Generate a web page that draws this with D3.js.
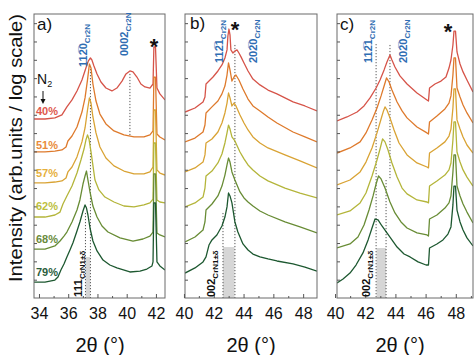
<!DOCTYPE html>
<html><head><meta charset="utf-8">
<script src="https://cdn.jsdelivr.net/npm/d3@7/dist/d3.min.js"></script>
<style>
body{margin:0;background:#fff}
svg{display:block}
text{font-family:"Liberation Sans",Arial,sans-serif}
</style>
</head><body>
<svg id="chart" width="474" height="355"></svg>
<script>
// ---------- DATA (x = 2θ in degrees, value = log10 of intensity, arb. units) ----------
const nitrogen = ["40%","51%","57%","62%","68%","79%"];
const ticksA = [34,36,38,40,42];
const ticksBC = [40,42,44,46,48];

// panel a) 34–42.6°
const a40 = [[33.66,9.77],[34.41,9.77],[35.09,9.83],[35.57,9.99],[35.91,10.43],[36.26,10.81],[36.60,11.30],[36.94,11.90],[37.21,12.55],[37.38,12.94],[37.52,13.10],[37.62,12.99],[37.76,12.66],[37.97,12.23],[38.24,11.79],[38.58,11.46],[38.99,11.30],[39.33,11.46],[39.68,11.84],[39.95,12.23],[40.22,12.39],[40.43,12.34],[40.70,12.06],[40.97,11.68],[41.25,11.52],[41.59,11.46],[41.80,11.68],[41.86,13.70],[41.97,13.70],[42.07,11.46],[42.27,11.14],[42.62,10.81]];
const a51 = [[33.66,7.97],[34.41,7.97],[35.09,8.02],[35.57,8.08],[35.85,8.24],[35.98,8.57],[36.26,8.84],[36.60,9.33],[36.94,10.15],[37.15,10.92],[37.32,11.90],[37.45,12.77],[37.56,12.55],[37.69,11.68],[37.90,10.75],[38.17,10.04],[38.58,9.50],[39.13,9.12],[39.81,8.90],[40.50,8.79],[41.18,8.79],[41.59,8.90],[41.80,9.12],[41.86,12.06],[41.97,12.06],[42.07,8.95],[42.27,8.79],[42.62,8.62]];
const a57 = [[33.66,6.28],[34.41,6.28],[35.09,6.33],[35.57,6.39],[35.85,6.55],[35.98,6.88],[36.26,7.15],[36.60,7.70],[36.94,8.52],[37.15,9.28],[37.32,10.26],[37.45,10.92],[37.56,10.64],[37.69,9.88],[37.90,9.01],[38.17,8.24],[38.58,7.64],[39.13,7.21],[39.81,6.93],[40.50,6.77],[41.18,6.77],[41.59,6.88],[41.80,7.15],[41.86,10.26],[41.97,10.26],[42.07,6.99],[42.27,6.82],[42.62,6.71]];
const a62 = [[33.66,4.42],[34.41,4.42],[35.09,4.53],[35.44,4.69],[35.64,5.13],[35.91,5.57],[36.26,6.11],[36.60,6.82],[36.87,7.53],[37.08,8.13],[37.21,8.62],[37.32,8.90],[37.42,8.68],[37.56,7.97],[37.83,6.44],[38.10,5.90],[38.51,5.51],[39.13,5.24],[39.81,5.02],[40.50,4.97],[41.18,5.08],[41.59,5.19],[41.80,5.40],[41.86,8.46],[41.97,8.46],[42.07,5.35],[42.27,5.24],[42.62,5.19]];
const a68 = [[33.66,2.67],[34.41,2.67],[35.09,2.84],[35.44,3.11],[35.71,3.38],[35.91,3.60],[36.26,4.15],[36.60,4.80],[36.80,5.35],[37.01,6.22],[37.15,6.66],[37.25,6.93],[37.35,6.44],[37.49,5.79],[37.69,5.02],[37.97,4.42],[38.31,3.93],[38.72,3.60],[39.54,3.28],[40.43,3.11],[41.11,3.22],[41.59,3.38],[41.80,3.60],[41.86,6.77],[41.97,6.77],[42.07,3.55],[42.27,3.44],[42.62,3.33]];
const a79 = [[33.66,0.87],[34.41,0.87],[35.09,0.98],[35.30,1.15],[35.50,1.53],[35.71,1.86],[35.91,2.24],[36.12,2.62],[36.32,3.00],[36.60,3.66],[36.80,4.15],[37.01,4.75],[37.15,5.08],[37.25,4.91],[37.35,4.53],[37.49,3.82],[37.69,3.11],[37.97,2.57],[38.38,2.07],[38.85,1.80],[39.33,1.64],[40.22,1.42],[40.91,1.47],[41.38,1.58],[41.73,1.75],[41.80,1.97],[41.86,5.19],[41.97,5.19],[42.07,1.97],[42.27,1.75],[42.62,1.53]];

// panel b) 40–49°
const b40 = [[40.07,10.15],[40.74,10.37],[41.28,10.70],[41.41,10.97],[41.48,11.68],[41.95,12.06],[42.28,12.39],[42.55,12.72],[42.75,13.10],[42.89,13.54],[42.95,14.30],[43.02,14.68],[43.09,14.36],[43.15,13.54],[43.29,13.37],[43.42,13.48],[43.56,13.54],[43.69,13.37],[43.83,13.16],[44.03,12.83],[44.30,12.39],[44.63,11.95],[45.10,11.63],[45.64,11.35],[46.24,11.14],[47.32,10.70],[48.12,10.48],[48.93,10.21]];
const b51 = [[40.07,8.52],[40.74,8.73],[41.28,9.06],[41.41,9.44],[41.48,10.10],[41.88,10.43],[42.28,10.75],[42.55,11.14],[42.75,11.57],[42.89,12.17],[42.99,12.83],[43.09,12.45],[43.22,11.84],[43.36,12.06],[43.49,12.17],[43.69,11.90],[43.96,11.41],[44.30,10.86],[44.63,10.48],[45.10,10.21],[45.64,9.88],[46.24,9.55],[47.32,9.06],[48.12,8.79],[48.93,8.52]];
const b57 = [[40.07,6.88],[40.74,7.10],[41.28,7.42],[41.41,7.81],[41.48,8.46],[41.88,8.68],[42.28,9.06],[42.55,9.55],[42.75,10.10],[42.89,10.64],[42.99,11.19],[43.09,10.92],[43.22,10.48],[43.36,10.64],[43.49,10.48],[43.76,9.99],[44.03,9.55],[44.30,9.17],[44.63,8.79],[45.10,8.46],[45.64,8.19],[46.78,7.81],[47.79,7.48],[48.93,7.10]];
const b62 = [[40.07,4.97],[40.74,5.19],[41.28,5.51],[41.41,6.00],[41.48,6.66],[41.88,6.93],[42.28,7.37],[42.55,7.86],[42.75,8.46],[42.89,9.01],[42.99,9.44],[43.09,9.22],[43.22,8.79],[43.42,8.57],[43.76,7.97],[44.03,7.59],[44.30,7.26],[44.63,6.99],[45.10,6.66],[45.64,6.39],[46.78,6.00],[47.79,5.73],[48.93,5.46]];
const b68 = [[40.07,3.06],[40.74,3.33],[41.28,3.71],[41.41,4.15],[41.48,4.80],[41.88,5.13],[42.28,5.57],[42.55,6.11],[42.75,6.71],[42.89,7.26],[42.99,7.64],[43.09,7.42],[43.22,6.88],[43.42,6.44],[43.76,5.79],[44.03,5.46],[44.30,5.24],[44.63,5.02],[45.10,4.75],[45.64,4.53],[46.78,4.15],[47.79,3.88],[48.93,3.55]];
const b79 = [[40.07,1.36],[40.74,1.64],[41.28,1.97],[41.48,2.24],[41.68,2.89],[41.88,3.17],[42.21,3.44],[42.55,3.93],[42.75,4.42],[42.89,4.97],[42.99,5.73],[43.09,5.57],[43.22,5.19],[43.42,4.15],[43.62,3.60],[43.96,2.95],[44.30,2.62],[44.63,2.40],[45.10,2.24],[45.64,2.13],[46.24,2.02],[47.32,1.86],[48.12,1.69],[48.93,1.47]];

// panel c) 40–49°
const c40 = [[40.13,9.66],[40.79,9.88],[41.46,10.15],[41.92,10.48],[42.32,10.92],[42.72,11.46],[42.98,11.90],[43.25,12.45],[43.44,12.88],[43.64,13.26],[43.77,12.99],[43.97,12.61],[44.30,12.12],[44.77,11.68],[45.43,11.19],[46.09,10.81],[46.19,10.75],[46.26,11.46],[46.62,11.68],[47.02,11.84],[47.35,12.06],[47.55,12.55],[47.68,12.99],[47.81,13.81],[47.88,14.57],[47.98,14.57],[48.08,13.43],[48.28,12.77],[48.48,12.34],[48.74,11.90],[49.14,11.24]];
const c51 = [[40.13,7.91],[40.99,8.19],[41.66,8.52],[42.05,9.01],[42.45,9.72],[42.78,10.37],[43.05,11.03],[43.25,11.57],[43.41,12.01],[43.58,11.79],[43.77,11.35],[44.11,10.70],[44.44,10.21],[44.77,9.83],[45.43,9.33],[46.09,9.01],[46.19,8.95],[46.26,9.61],[46.75,9.93],[47.28,10.32],[47.55,10.64],[47.68,11.03],[47.81,12.17],[47.88,13.10],[47.98,13.10],[48.08,11.46],[48.28,10.97],[48.48,10.53],[48.74,10.10],[49.14,9.55]];
const c57 = [[40.13,6.17],[40.99,6.44],[41.66,6.88],[42.05,7.42],[42.45,8.19],[42.78,9.01],[43.05,9.77],[43.21,10.21],[43.31,10.43],[43.44,10.26],[43.64,9.83],[43.91,9.17],[44.24,8.46],[44.77,7.81],[45.43,7.37],[46.09,7.15],[46.19,7.10],[46.26,7.91],[46.75,8.19],[47.28,8.52],[47.55,8.84],[47.68,9.22],[47.81,10.37],[47.88,11.41],[47.98,11.41],[48.08,9.72],[48.28,9.22],[48.48,8.79],[48.74,8.35],[49.14,7.91]];
const c62 = [[40.13,4.53],[40.99,4.75],[41.66,5.19],[42.05,5.73],[42.45,6.66],[42.78,7.53],[42.98,8.13],[43.15,8.68],[43.31,8.52],[43.51,8.08],[43.77,7.37],[44.11,6.60],[44.44,6.00],[44.77,5.68],[45.43,5.35],[46.09,5.24],[46.19,5.19],[46.26,6.11],[46.75,6.39],[47.28,6.71],[47.55,6.99],[47.68,7.37],[47.81,8.62],[47.88,9.61],[47.98,9.61],[48.08,7.97],[48.28,7.42],[48.48,6.99],[48.74,6.60],[49.14,6.11]];
const c68 = [[40.13,2.73],[40.99,2.95],[41.52,3.33],[41.92,3.98],[42.25,4.80],[42.52,5.57],[42.72,6.22],[42.88,6.66],[43.05,6.50],[43.31,6.00],[43.64,5.24],[43.97,4.64],[44.37,4.15],[44.77,3.82],[45.43,3.55],[46.09,3.44],[46.19,3.38],[46.26,4.31],[46.75,4.53],[47.28,4.91],[47.55,5.19],[47.68,5.57],[47.81,6.88],[47.88,7.81],[47.98,7.81],[48.08,6.11],[48.28,5.57],[48.48,5.13],[48.74,4.69],[49.14,4.09]];
const c79 = [[40.13,0.82],[40.53,1.04],[40.99,1.36],[41.39,1.80],[41.85,2.46],[42.19,3.17],[42.45,3.82],[42.65,4.31],[42.85,4.26],[43.11,3.93],[43.44,3.55],[43.77,3.17],[44.11,2.78],[44.57,2.40],[44.97,2.24],[45.50,1.97],[46.03,1.80],[46.19,1.80],[46.26,2.73],[46.75,2.95],[47.15,3.17],[47.48,3.49],[47.68,3.88],[47.81,5.08],[47.88,6.11],[47.98,6.11],[48.08,4.80],[48.28,4.15],[48.48,3.71],[48.74,3.28],[49.14,2.84]];

// reference lines: [2θ, top log10 I, bottom log10 I]
const refA = [[37.52,12.66,0],[37.18,4.64,0],[40.22,12.23,8.79]];
const refB = [[43.42,13.81,0],[42.62,4.64,0]];
const refC = [[42.72,13.86,0],[43.64,13.81,6.44],[43.38,6.44,0]];
// shaded CrN reference bands: [from 2θ, to 2θ, top log10 I]
const bandA = [37.20,37.50,2.24];
const bandB = [42.62,43.39,2.78];
const bandC = [42.75,43.38,2.73];

// ---------- STYLE ----------
const lineColors  = ["#d65449","#de7a2c","#d9a334","#b4b53a","#688c35","#1d5830"];
const labelColors = ["#e0574c","#e98b3a","#e6b03c","#bdbf3e","#6a8b3c","#2b5d3c"];
const blue = "#2f6db3";

const svg = d3.select("#chart");
const Y0 = 298, Y1 = 14;
const y = d3.scaleLog().domain([1, Math.pow(10, 15.5)]).range([Y0, Y1]);
const yv = v => y(Math.pow(10, v));

const panels = [
  {x: d3.scaleLinear().domain([33.66, 42.62]).range([34, 165]), data:[a40,a51,a57,a62,a68,a79], ticks: ticksA, refs: refA, band: bandA, letter:"a)", lx:37, ly:30, labelX:100},
  {x: d3.scaleLinear().domain([40.07, 48.93]).range([185, 317]), data:[b40,b51,b57,b62,b68,b79], ticks: ticksBC, refs: refB, band: bandB, letter:"b)", lx:190, ly:29, labelX:251},
  {x: d3.scaleLinear().domain([40.13, 49.14]).range([337, 473]), data:[c40,c51,c57,c62,c68,c79], ticks: ticksBC, refs: refC, band: bandC, letter:"c)", lx:340, ly:30, labelX:400}
];

const defs = svg.append("defs");

panels.forEach((p, i) => {
  const [x0, x1] = p.x.range();
  const g = svg.append("g");
  defs.append("clipPath").attr("id", "clip" + i)
    .append("rect").attr("x", x0).attr("y", Y1).attr("width", x1 - x0).attr("height", Y0 - Y1);

  // shaded band
  g.append("rect")
    .attr("x", p.x(p.band[0])).attr("width", p.x(p.band[1]) - p.x(p.band[0]))
    .attr("y", yv(p.band[2])).attr("height", Y0 - yv(p.band[2]))
    .attr("fill", "#d6d6d6");

  // dotted reference lines
  p.refs.forEach(r => {
    g.append("line")
      .attr("x1", p.x(r[0])).attr("x2", p.x(r[0]))
      .attr("y1", yv(r[1])).attr("y2", yv(r[2]))
      .attr("stroke", "#555").attr("stroke-width", 1)
      .attr("stroke-dasharray", "1.2,1.8");
  });

  // curves
  const line = d3.line().x(d => p.x(d[0])).y(d => yv(d[1]));
  p.data.forEach((d, k) => {
    g.append("path").attr("d", line(d))
      .attr("fill", "none").attr("stroke", lineColors[k])
      .attr("stroke-width", 1.3).attr("stroke-linejoin", "round")
      .attr("clip-path", `url(#clip${i})`);
  });

  // frame
  g.append("rect").attr("x", x0).attr("y", Y1).attr("width", x1 - x0).attr("height", Y0 - Y1)
    .attr("fill", "none").attr("stroke", "#6a6a6a").attr("stroke-width", 1);

  // left axis: decade ticks (no labels)
  const decades = d3.range(1, 16).map(e => Math.pow(10, e));
  const la = g.append("g").attr("transform", `translate(${x0},0)`)
    .call(d3.axisLeft(y).tickValues(decades).tickSize(-3).tickFormat(""));
  la.select(".domain").remove();
  la.selectAll("line").attr("stroke", "#555");

  // bottom axis
  const ba = g.append("g").attr("transform", `translate(0,${Y0})`)
    .call(d3.axisBottom(p.x).tickValues(p.ticks).tickSizeInner(-4).tickSizeOuter(0).tickPadding(9.5).tickFormat(d3.format("d")));
  ba.select(".domain").remove();
  ba.selectAll("line").attr("stroke", "#555");
  ba.selectAll("text").attr("font-size", 16).attr("fill", "#111")
    .attr("font-family", "'Liberation Sans', Arial, sans-serif");
  const minor = d3.range(Math.ceil(p.x.domain()[0]), Math.floor(p.x.domain()[1]) + 1).filter(v => v % 2 !== 0);
  const ma = g.append("g").attr("transform", `translate(0,${Y0})`)
    .call(d3.axisBottom(p.x).tickValues(minor).tickSizeInner(-2).tickSizeOuter(0).tickFormat(""));
  ma.select(".domain").remove();
  ma.selectAll("line").attr("stroke", "#555");

  // x label
  const xl = g.append("text").attr("x", p.labelX).attr("y", 352).attr("text-anchor", "middle")
    .attr("font-size", 20).attr("fill", "#111");
  xl.text("2θ (°)");

  // panel letter
  g.append("text").attr("x", p.lx).attr("y", p.ly).attr("font-size", 17).attr("fill", "#111").text(p.letter);
});

// ---------- annotations ----------
function vlabel(x, y0, main, sub, color, mainSize, subSize) {
  const t = svg.append("text").attr("transform", `translate(${x},${y0}) rotate(-90)`)
    .attr("fill", color).attr("font-weight", "bold").attr("font-size", mainSize);
  t.append("tspan").text(main);
  t.append("tspan").attr("font-size", subSize).attr("dy", 3).text(sub);
}
// Cr2N reflections (blue)
vlabel(87, 67, "112\u03050", "Cr2N", blue, 11, 8);
vlabel(128, 56, "0002", "Cr2N", blue, 11, 8);
vlabel(223, 63, "112\u03051", "Cr2N", blue, 11, 8);
vlabel(257, 63, "202\u03050", "Cr2N", blue, 11, 8);
vlabel(372, 63, "112\u03051", "Cr2N", blue, 11, 8);
vlabel(407, 63, "202\u03050", "Cr2N", blue, 11, 8);
// CrN reflections (black)
vlabel(82, 297, "111", "CrN1±δ", "#111", 11.5, 8);
vlabel(215, 297, "002", "CrN1±δ", "#111", 11, 8);
vlabel(370, 297, "002", "CrN1±δ", "#111", 11, 8);

// substrate stars
[[154,54],[235,37],[448,39]].forEach(s => {
  svg.append("text").attr("x", s[0]).attr("y", s[1]).attr("text-anchor", "middle")
    .attr("font-size", 22).attr("font-weight", "bold").attr("fill", "#111").text("*");
});

// N2 with arrow
const n2 = svg.append("text").attr("x", 37).attr("y", 84).attr("font-size", 14).attr("fill", "#111");
n2.append("tspan").text("N");
n2.append("tspan").attr("font-size", 9).attr("dy", 3).text("2");
svg.append("line").attr("x1", 43).attr("x2", 43).attr("y1", 91).attr("y2", 101).attr("stroke", "#111").attr("stroke-width", 1);
svg.append("path").attr("d", "M40.5,99 L43,104 L45.5,99 Z").attr("fill", "#111");

// nitrogen flow labels
const pctY = [115, 149, 177, 210, 243, 276];
nitrogen.forEach((t, k) => {
  svg.append("text").attr("x", 36).attr("y", pctY[k]).attr("font-size", 11).attr("font-weight", "bold")
    .attr("fill", labelColors[k]).text(t);
});

// y-axis label
svg.append("text").attr("transform", "translate(22,148) rotate(-90)").attr("text-anchor", "middle")
  .attr("font-size", 19).attr("fill", "#111")
  .attr("textLength", 268).attr("lengthAdjust", "spacingAndGlyphs")
  .text("Intensity (arb.units / log scale)");
</script>
</body></html>
